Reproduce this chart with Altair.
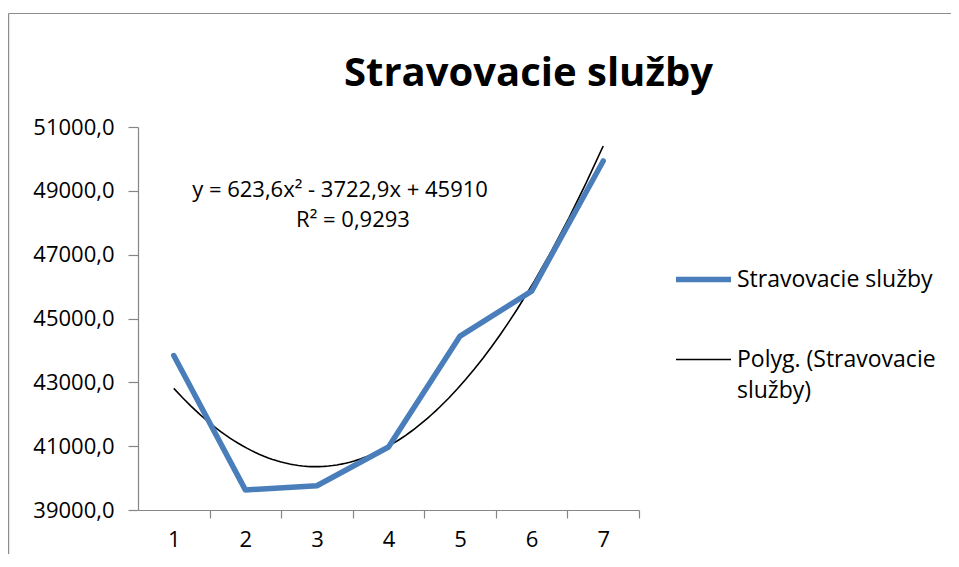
import altair as alt
import pandas as pd

# ---------------- data ----------------
periods = [1, 2, 3, 4, 5, 6, 7]
values = [43840, 39630, 39760, 40975, 44450, 45860, 49935]
series_label = "Stravovacie služby"
trend_label = "Polyg. (Stravovacie služby)"
y_tick_values = [39000, 41000, 43000, 45000, 47000, 49000, 51000]
x_tick_values = [1, 2, 3, 4, 5, 6, 7]
chart_title = "Stravovacie služby"
equation_text = ["y = 623,6x² - 3722,9x + 45910"]
r2_text = ["R² = 0,9293"]
frame_row = [0]

# ---------------- layout / style ----------------
W, H = 501, 383
HALF_BAND = W / 7 / 2
FONT = "Open Sans"
AXIS_GRAY = "#868686"
BLUE = "#4A7EBB"
LABEL_SIZE = 22

df = pd.DataFrame({"x": periods, "y": values})

x_scale = alt.Scale(domain=[0.5, 7.5], nice=False, zero=False)
y_scale = alt.Scale(domain=[39000, 51000], nice=False, zero=False)

x_axis = alt.Axis(
    values=x_tick_values, title=None, grid=False,
    tickOffset=HALF_BAND, labelOffset=-HALF_BAND,
    tickSize=8, labelPadding=11, labelFlush=False,
    labelFont=FONT, labelFontSize=LABEL_SIZE, labelColor="black",
    domainColor=AXIS_GRAY, tickColor=AXIS_GRAY, domainWidth=1.2, tickWidth=1.2,
)
y_axis = alt.Axis(
    values=y_tick_values, title=None, grid=False,
    tickSize=10, labelPadding=14,
    labelExpr="replace(format(datum.value, '.1f'), '.', ',')",
    labelFont=FONT, labelFontSize=LABEL_SIZE, labelColor="black",
    domainColor=AXIS_GRAY, tickColor=AXIS_GRAY, domainWidth=1.2, tickWidth=1.2,
)

legend = alt.Legend(
    title=None, orient="none", legendX=535, legendY=122,
    symbolType="stroke", symbolSize=3025, labelOffset=3,
    labelFont=FONT, labelFontSize=23, labelColor="black", labelLimit=400,
    rowPadding=39, padding=0,
    labelExpr="datum.label == 'Polyg. (Stravovacie služby)' ? ['Polyg. (Stravovacie', 'služby)'] : datum.label",
)

color = alt.Color(
    "series:N",
    scale=alt.Scale(domain=[series_label, trend_label], range=[BLUE, "#000000"]),
    legend=legend,
)
stroke_w = alt.StrokeWidth(
    "series:N",
    scale=alt.Scale(type="ordinal", domain=[series_label, trend_label], range=[5.5, 1.6]),
    legend=legend,
)

base = alt.Chart(df)

data_line = base.transform_calculate(series=f"'{series_label}'").mark_line(
    strokeCap="round", strokeJoin="round"
).encode(
    x=alt.X("x:Q", scale=x_scale, axis=x_axis),
    y=alt.Y("y:Q", scale=y_scale, axis=y_axis),
    color=color,
    strokeWidth=stroke_w,
)

trend_line = base.transform_regression(
    "x", "y", method="poly", order=2
).transform_calculate(series=f"'{trend_label}'").mark_line().encode(
    x=alt.X("x:Q", scale=x_scale, axis=x_axis),
    y=alt.Y("y:Q", scale=y_scale, axis=y_axis),
    color=color,
    strokeWidth=stroke_w,
)

eq = alt.Chart(pd.DataFrame({"t": equation_text})).mark_text(
    font=FONT, fontSize=22, align="center", baseline="middle", color="black"
).encode(text="t:N", x=alt.value(202), y=alt.value(63))

r2 = alt.Chart(pd.DataFrame({"t": r2_text})).mark_text(
    font=FONT, fontSize=22, align="center", baseline="middle", color="black"
).encode(text="t:N", x=alt.value(215), y=alt.value(93))

frame_df = pd.DataFrame({"f": frame_row})
frame_left = alt.Chart(frame_df).mark_rule(color="#8c8c8c", strokeWidth=1.2).encode(
    x=alt.value(-129.4), y=alt.value(-113.5), y2=alt.value(440)
)
frame_top = alt.Chart(frame_df).mark_rule(color="#8c8c8c", strokeWidth=1.2).encode(
    x=alt.value(-129.4), x2=alt.value(830), y=alt.value(-113.5)
)

chart = alt.layer(
    frame_left, frame_top, trend_line, data_line, eq, r2
).properties(
    width=W, height=H,
    title=alt.Title(
        chart_title, font=FONT, fontSize=40, fontWeight="bold", color="black",
        anchor="middle", frame="group", dx=140, offset=-81,
    ),
    autosize=alt.AutoSizeParams(type="none"),
    padding={"left": 130, "top": 119, "right": 312, "bottom": 44},
).configure(
    background="white",
    style={"guide-label": {"lineHeight": 31}},
).configure_view(stroke=None)

chart.save("out.html", embed_options={"renderer": "svg", "actions": False})
